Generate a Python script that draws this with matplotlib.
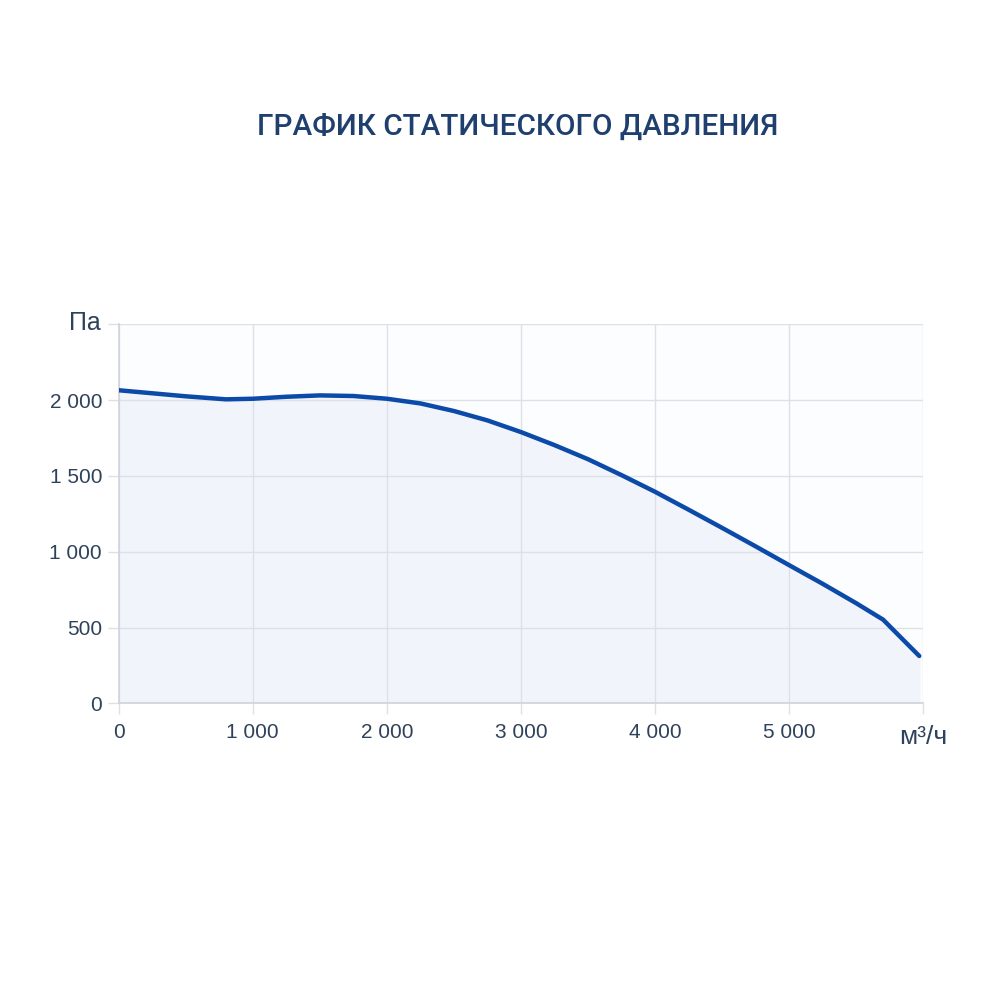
import numpy as np
import matplotlib.pyplot as plt

# Static pressure curve
flow = [0, 250, 500, 800, 1000, 1250, 1500, 1750, 2000, 2250, 2500, 2750,
        3000, 3250, 3500, 3750, 4000, 4250, 4500, 4750, 5000, 5250, 5500,
        5700, 5970]
pressure = [2065, 2045, 2025, 2005, 2009, 2022, 2031, 2027, 2009, 1978,
            1928, 1866, 1789, 1703, 1610, 1505, 1395, 1277, 1157, 1035,
            911, 788, 660, 552, 312]

x_ticks = [0, 1000, 2000, 3000, 4000, 5000, 6000]
y_ticks = [0, 500, 1000, 1500, 2000, 2500]

title = 'ГРАФИК СТАТИЧЕСКОГО ДАВЛЕНИЯ'
y_unit = 'Па'
x_unit = 'м³/ч'

plt.rcParams['font.family'] = ['Liberation Sans', 'DejaVu Sans']

line_col = '#0b4aa8'
text_col = '#2f425b'
grid_col = '#dde1e7'

fig = plt.figure(figsize=(10, 10), dpi=100)
fig.patch.set_facecolor('white')
ax = fig.add_axes([0.1187, 0.2967, 0.8046, 0.3790])
ax.set_facecolor('#fcfdfe')

ax.fill_between(flow, pressure, 0, color='#f1f5fb', zorder=1)
ax.plot(flow, pressure, color=line_col, lw=3.2, solid_capstyle='round',
        solid_joinstyle='round', zorder=3)

ax.set_xlim(0, 6000)
ax.set_ylim(0, 2500)


def fmt(v):
    return f'{int(v):,}'.replace(',', ' ')


# last tick labels are left empty, the units sit there instead
ax.set_xticks(x_ticks, [fmt(v) for v in x_ticks[:-1]] + [''])
ax.set_yticks(y_ticks, [fmt(v) for v in y_ticks[:-1]] + [''])

ax.grid(True, color=grid_col, lw=1, zorder=0)
for s in ['top', 'right']:
    ax.spines[s].set_visible(False)
for s in ['left', 'bottom']:
    ax.spines[s].set_color('#cfd4da')
    ax.spines[s].set_linewidth(1.2)
ax.tick_params(axis='both', colors=grid_col, labelcolor=text_col,
               labelsize=15, length=8, width=1)
ax.tick_params(axis='x', pad=6)
ax.tick_params(axis='y', pad=4)

fig.text(0.101, 0.677, y_unit, ha='right', va='center', color=text_col,
         fontsize=18)
fig.text(0.923, 0.263, x_unit, ha='center', va='center', color=text_col,
         fontsize=19)

fig.text(0.518, 0.873, title, ha='center', va='center', color='#1f3f6e',
         fontsize=21.3, fontweight='medium', family=['Roboto', 'DejaVu Sans'])

fig.savefig('out.png', dpi=100, facecolor=fig.get_facecolor())
